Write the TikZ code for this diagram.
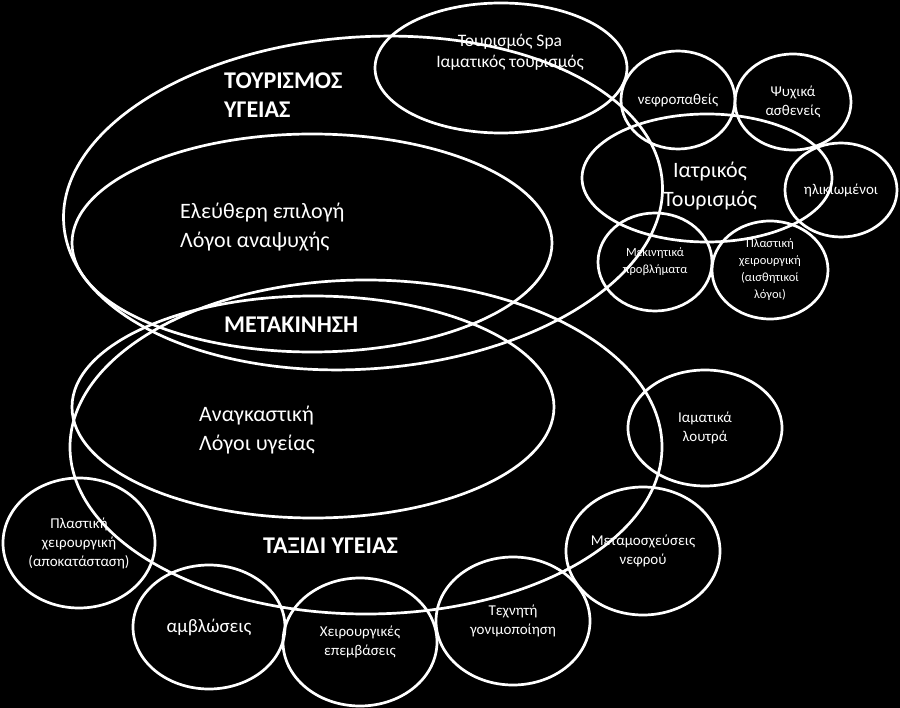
\documentclass[tikz,border=0pt]{standalone}
\usepackage{fontspec}
\setmainfont{Carlito}
\usetikzlibrary{shapes.geometric}
\begin{document}
\begin{tikzpicture}[x=1pt,y=-1pt,
  ring/.style={draw=white, line width=2.7pt, ellipse, inner sep=0pt, text=white, align=center},
  lbl/.style={text=white, inner sep=0pt},
  bigbold/.style={lbl, font=\fontsize{24}{29}\selectfont\bfseries, align=left},
  bigreg/.style={lbl, font=\fontsize{22}{29}\selectfont, align=left},
  small/.style={font=\fontsize{15}{19}\selectfont},
  tiny/.style={font=\fontsize{12.5}{17}\selectfont}]
\fill[black] (0,0) rectangle (900,708);
\useasboundingbox (0,0) rectangle (900,708);
% big ellipses
\node[ring, minimum width=600pt, minimum height=332pt, rotate=4] (tour) at (363,203) {};
\node[ring, minimum width=480pt, minimum height=218pt] (free) at (312,243) {};
\node[ring, minimum width=482pt, minimum height=222pt] (forced) at (313,407) {};
\node[ring, minimum width=592pt, minimum height=334pt] (trip) at (366,447) {};
\node[ring, minimum width=252pt, minimum height=130pt] (spa) at (501,68) {};
\node[ring, minimum width=250pt, minimum height=128pt] (med) at (707,178) {};
% small circles
\node[ring, small, minimum width=114pt, minimum height=98pt] (kid) at (678,100) {νεφροπαθείς};
\node[ring, small, minimum width=116pt, minimum height=96pt] (psy) at (793,102) {Ψυχικά\\ασθενείς};
\node[ring, small, minimum width=112pt, minimum height=94pt] (old) at (841,190) {ηλικιωμένοι};
\node[ring, tiny, minimum width=114pt, minimum height=98pt] (mob) at (655,262) {Μεκινητικά\\προβλήματα};
\node[ring, tiny, minimum width=116pt, minimum height=98pt] (aes) at (770,270) {Πλαστική\\χειρουργική\\(αισθητικοί\\λόγοι)};
\node[ring, small, minimum width=154pt, minimum height=116pt] (bath) at (705,428) {Ιαματικά\\λουτρά};
\node[ring, small, minimum width=154pt, minimum height=128pt] (trans) at (643,551) {Μεταμοσχεύσεις\\νεφρού};
\node[ring, small, minimum width=154pt, minimum height=128pt] (ivf) at (513,621) {Τεχνητή\\γονιμοποίηση};
\node[ring, small, minimum width=154pt, minimum height=128pt] (surg) at (360,642) {Χειρουργικές\\επεμβάσεις};
\node[ring, font=\fontsize{19}{22}\selectfont, minimum width=152pt, minimum height=124pt] (abort) at (209,627) {αμβλώσεις};
\node[ring, small, minimum width=152pt, minimum height=130pt] (recon) at (79,543) {Πλαστική\\χειρουργική\\(αποκατάσταση)};
% labels
\node[bigbold, anchor=west] (tourlbl) at (224,95) {ΤΟΥΡΙΣΜΟΣ\\ΥΓΕΙΑΣ};
\node[bigreg, anchor=west] (freelbl) at (180,227) {Ελεύθερη επιλογή\\Λόγοι αναψυχής};
\node[bigbold, anchor=west] (movelbl) at (224,325) {ΜΕΤΑΚΙΝΗΣΗ};
\node[bigreg, anchor=west] (forcedlbl) at (199,430) {Αναγκαστική\\Λόγοι υγείας};
\node[bigbold, anchor=west] (triplbl) at (263,546) {ΤΑΞΙΔΙ ΥΓΕΙΑΣ};
\node[lbl, align=center, font=\fontsize{17.5}{21}\selectfont] (spalbl) at (510,52) {Τουρισμός Spa\\Ιαματικός τουρισμός};
\node[lbl, align=center, font=\fontsize{22}{29}\selectfont] (medlbl) at (710,186) {Ιατρικός\\Τουρισμός};
\end{tikzpicture}
\end{document}
